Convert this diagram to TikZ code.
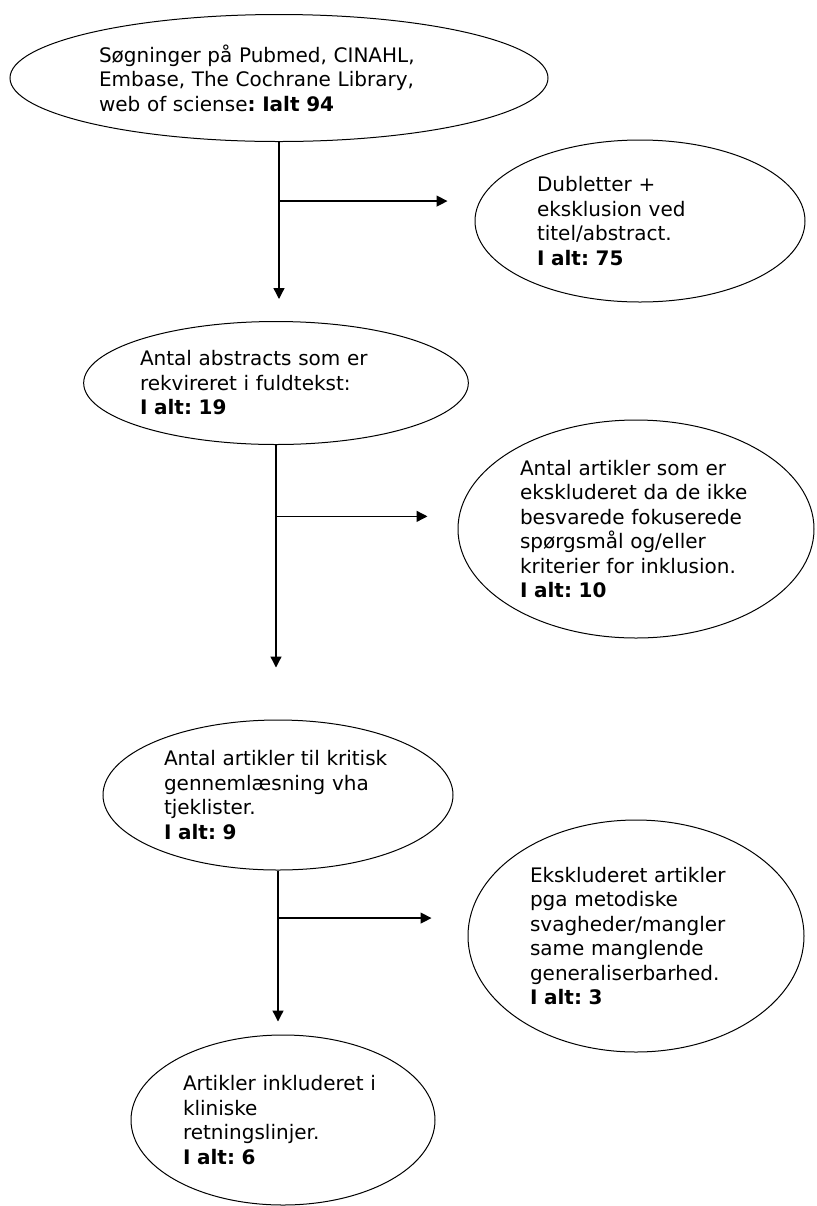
\documentclass[tikz,border=0pt]{standalone}
\usepackage{fontspec}
\setmainfont{DejaVu Sans}
\usetikzlibrary{shapes.geometric,arrows.meta,calc}
\frenchspacing

\tikzset{
  bubble/.style={ellipse, draw, line width=0.5pt, align=left, inner sep=0pt,
    font=\fontsize{10pt}{12.25pt}\selectfont},
  flow/.style={-{Triangle[length=5.5pt,width=5.5pt]}, line width=0.65pt}
}

\begin{document}
\begin{tikzpicture}[x=0.5pt, y=-0.5pt]

    \useasboundingbox (0,0) rectangle (817,1206);

    \node [bubble, minimum width=269pt, minimum height=63.5pt, text width=180pt] (A) at (279,78)
        {Søgninger på Pubmed, CINAHL,\\Embase, The Cochrane Library,\\web of sciense\textbf{: Ialt 94}};
    \node [bubble, minimum width=165pt, minimum height=81pt, text width=103pt] (B) at (640,221)
        {Dubletter +\\eksklusion ved\\titel/abstract.\\\textbf{I alt: 75}};
    \node [bubble, minimum width=172pt, minimum height=61.5pt, text width=136pt] (C) at (276,383)
        {Antal abstracts som er\\rekvireret i fuldtekst:\\\textbf{I alt: 19}};
    \node [bubble, minimum width=178pt, minimum height=109pt, text width=116pt] (D) at (636,529)
        {Antal artikler som er\\ekskluderet da de ikke\\besvarede fokuserede\\spørgsmål og/eller\\kriterier for inklusion.\\\textbf{I alt: 10}};
    \node [bubble, minimum width=175pt, minimum height=75pt, text width=114pt] (E) at (278,795)
        {Antal artikler til kritisk\\gennemlæsning vha\\tjeklister.\\\textbf{I alt: 9}};
    \node [bubble, minimum width=168pt, minimum height=116pt, text width=106pt] (F) at (636,936)
        {Ekskluderet artikler\\pga metodiske\\svagheder/mangler\\same manglende\\generaliserbarhed.\\\textbf{I alt: 3}};
    \node [bubble, minimum width=152pt, minimum height=85pt, text width=100pt] (G) at (283,1120)
        {Artikler inkluderet i\\kliniske\\retningslinjer.\\\textbf{I alt: 6}};

    \coordinate (a) at ($(A.south)!0.33!(A.south |- C.north)$);
    \coordinate (c) at ($(C.south)!0.26!(C.south |- E.north)$);
    \coordinate (e) at ($(E.south)!0.29!(E.south |- G.north)$);

    \draw [flow, shorten >=11pt] (A.south) -- (A.south |- C.north);
    \draw [flow, shorten >=13.5pt] (a) -- (a -| B.west);
    \draw [flow, shorten >=26pt] (C.south) -- (C.south |- E.north);
    \draw [flow, shorten >=15pt] (c) -- (c -| D.west);
    \draw [flow, shorten >=6.5pt] (E.south) -- (E.south |- G.north);
    \draw [flow, shorten >=18pt] (e) -- (e -| F.west);

\end{tikzpicture}
\end{document}
